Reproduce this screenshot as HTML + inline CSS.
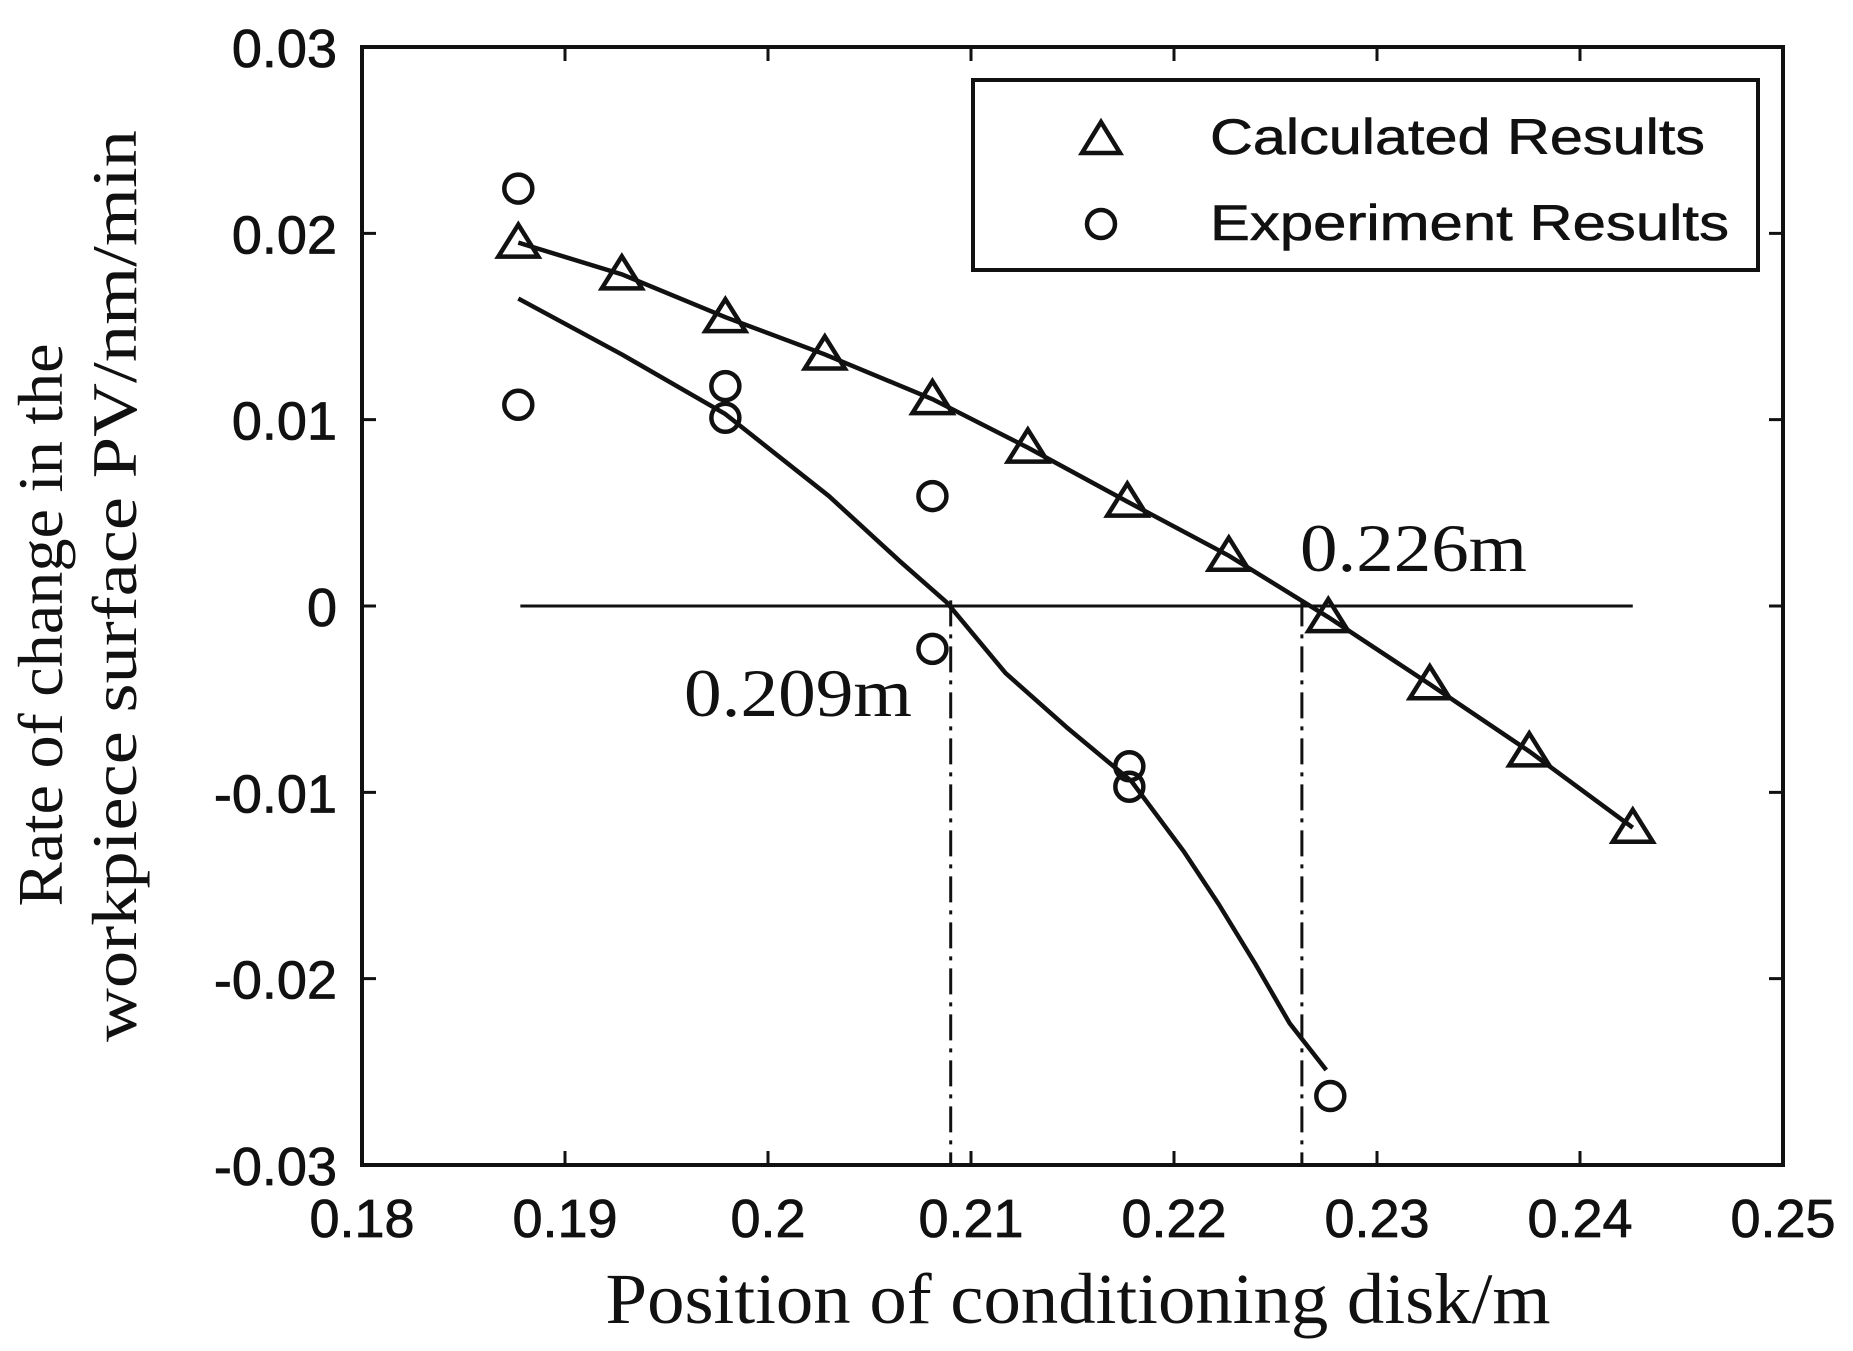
<!DOCTYPE html>
<html><head><meta charset="utf-8"><style>
html,body{margin:0;padding:0;background:#fff;}
svg{display:block;}
.tk{font-family:"Liberation Sans",sans-serif;font-size:54px;fill:#111;stroke:#111;stroke-width:0.8;}
.lg{font-family:"Liberation Sans",sans-serif;font-size:50px;fill:#111;stroke:#111;stroke-width:0.6;}
.sf{font-family:"Liberation Serif",serif;fill:#111;}
</style></head><body>
<svg id="chart" width="1853" height="1351" viewBox="0 0 1853 1351" xmlns="http://www.w3.org/2000/svg">
<rect x="0" y="0" width="1853" height="1351" fill="#fff"/>
<g id="plot"></g>
<text class="sf" font-size="64" text-anchor="middle" textLength="563" lengthAdjust="spacingAndGlyphs" transform="translate(62,625) rotate(-90)">Rate of change in the</text>
<text class="sf" font-size="64" text-anchor="middle" textLength="912" lengthAdjust="spacingAndGlyphs" transform="translate(136,586) rotate(-90)">workpiece surface PV/nm/min</text>
<text class="sf" font-size="72" text-anchor="middle" textLength="945" lengthAdjust="spacingAndGlyphs" x="1078" y="1323">Position of conditioning disk/m</text>
<text class="sf" font-size="68" textLength="227" lengthAdjust="spacingAndGlyphs" x="1300" y="571">0.226m</text>
<text class="sf" font-size="68" textLength="228" lengthAdjust="spacingAndGlyphs" x="684" y="716">0.209m</text>
<g>
<rect x="973" y="80" width="785" height="190" fill="#fff" stroke="#111" stroke-width="4"/>
<polygon points="1101,122 1082,153 1120,153" fill="none" stroke="#111" stroke-width="4.5"/>
<text class="lg" x="1210" y="154" textLength="495" lengthAdjust="spacingAndGlyphs">Calculated Results</text>
<circle cx="1101" cy="224" r="14" fill="none" stroke="#111" stroke-width="4.5"/>
<text class="lg" x="1210" y="240" textLength="519" lengthAdjust="spacingAndGlyphs">Experiment Results</text>
</g>
</svg>
<script>
const xTicks=[0.18,0.19,0.2,0.21,0.22,0.23,0.24,0.25];
const xTickLabels=["0.18","0.19","0.2","0.21","0.22","0.23","0.24","0.25"];
const yTicks=[0.03,0.02,0.01,0,-0.01,-0.02,-0.03];
const yTickLabels=["0.03","0.02","0.01","0","-0.01","-0.02","-0.03"];
const calcX=[0.1877,0.1928,0.1979,0.2028,0.2081,0.2128,0.2177,0.2227,0.2276,0.2326,0.2375,0.2426];
const calcY=[0.0195,0.0178,0.0155,0.0135,0.0111,0.0085,0.0056,0.0027,-0.0006,-0.0042,-0.0078,-0.0119];
const expX=[0.1877,0.1877,0.1979,0.1979,0.2081,0.2081,0.2178,0.2178,0.2277];
const expY=[0.0224,0.0108,0.0118,0.0101,0.0059,-0.0023,-0.0086,-0.0097,-0.0263];
const fitX=[0.1877,0.1928,0.1979,0.2030,0.2065,0.2088,0.2117,0.2147,0.2179,0.2205,0.2222,0.2240,0.2257,0.2275];
const fitY=[0.0165,0.0135,0.0103,0.0059,0.0024,0.0002,-0.0036,-0.0065,-0.0094,-0.0132,-0.0160,-0.0192,-0.0224,-0.0249];
const crossX=[0.2090,0.2263];
const L=362,R=1783,T=47,B=1165;
const X=v=>L+(v-0.18)/0.07*(R-L);
const Y=v=>T+(0.03-v)/0.06*(B-T);
const NS="http://www.w3.org/2000/svg";
const g=document.getElementById('plot');
function mk(tag,attrs){const e=document.createElementNS(NS,tag);for(const k in attrs)e.setAttribute(k,attrs[k]);g.appendChild(e);return e;}
let e=mk('rect',{x:L,y:T,width:R-L,height:B-T,fill:'none',stroke:'#111','stroke-width':4});


xTicks.forEach((v,i)=>{
 let t=mk('path',{d:`M${X(v)},${B}v-14M${X(v)},${T}v14`,stroke:'#111','stroke-width':3});
 
 
 let s=mk('text',{x:X(v),y:1237,'text-anchor':'middle',class:'tk'});s.textContent=xTickLabels[i];
 
 
});
yTicks.forEach((v,i)=>{
 let t=mk('path',{d:`M${L},${Y(v)}h14M${R},${Y(v)}h-14`,stroke:'#111','stroke-width':3});
 
 
 let s=mk('text',{x:337,y:Y(v)+20,'text-anchor':'end',class:'tk'});s.textContent=yTickLabels[i];
 
 
});
e=mk('line',{x1:X(0.1878),x2:X(0.2426),y1:Y(0),y2:Y(0),stroke:'#111','stroke-width':3});


crossX.forEach(v=>{
 let l=mk('line',{x1:X(v),x2:X(v),y1:Y(0.0003),y2:B,stroke:'#111','stroke-width':3,'stroke-dasharray':'26,8,4,8'});
 
 
});
e=mk('polyline',{points:calcX.map((v,i)=>X(v)+','+Y(calcY[i])).join(' '),fill:'none',stroke:'#111','stroke-width':4.5});


e=mk('polyline',{points:fitX.map((v,i)=>X(v)+','+Y(fitY[i])).join(' '),fill:'none',stroke:'#111','stroke-width':4.5,'stroke-linejoin':'round'});


calcX.forEach((v,i)=>{
 const cx=X(v),cy=Y(calcY[i]);
 let p=mk('polygon',{points:`${cx},${cy-18} ${cx-20},${cy+14} ${cx+20},${cy+14}`,fill:'none',stroke:'#111','stroke-width':4.5});
 
 
});
expX.forEach((v,i)=>{
 let c=mk('circle',{cx:X(v),cy:Y(expY[i]),r:14,fill:'none',stroke:'#111','stroke-width':4.5});
 
 
});
</script>
</body></html>
